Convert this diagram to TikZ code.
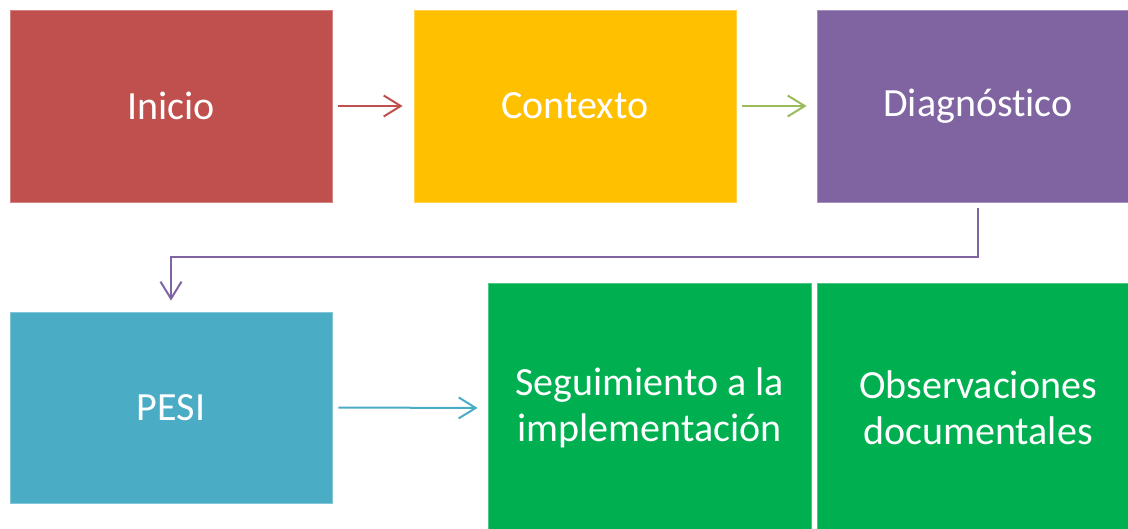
\documentclass[tikz,border=0pt]{standalone}
\usepackage{fontspec}
\setmainfont[Ligatures=NoCommon]{Carlito}
\usetikzlibrary{arrows.meta}
\definecolor{cred}{HTML}{C0504D}
\definecolor{cyel}{HTML}{FFC000}
\definecolor{cpur}{HTML}{8064A2}
\definecolor{cblu}{HTML}{4BACC6}
\definecolor{cgrn}{HTML}{00B050}
\definecolor{clime}{HTML}{9BBB59}
\tikzset{
  box/.style={rectangle, minimum width=322pt, minimum height=192pt, inner sep=0pt,
    text=white, align=center, font=\fontsize{40}{46}\selectfont, line width=0.8pt},
  conn/.style={line width=2pt, -{Straight Barb[length=17pt,width=21pt,line width=2pt]}}
}
\begin{document}
\begin{tikzpicture}[x=1pt,y=-1pt]
\useasboundingbox (0,0) rectangle (1128,529);
\clip (0,0) rectangle (1128,529);
\node[box, fill=cred, draw=cred!70!white] (inicio) at (171,106) {Inicio};
\node[box, fill=cyel, draw=cyel!70!white] (contexto) at (575,106) {Contexto};
\node[box, fill=cpur, draw=cpur!70!white] (diag) at (978,106) {Diagnóstico};
\node[box, fill=cblu, draw=cblu!70!white, minimum height=191pt] (pesi) at (171,407.5) {PESI};
\node[box, fill=cgrn, draw=cgrn!70!white, minimum width=323pt, minimum height=250pt] (seg) at (649.5,408) {Seguimiento a la\\implementación};
\node[box, fill=cgrn, draw=cgrn!70!white, minimum height=250pt] (obs) at (978,408) {Observaciones\\documentales};
\draw[conn, cred, shorten <=6pt, shorten >=11pt] (inicio.east) -- (contexto.west);
\draw[conn, clime, shorten <=6pt, shorten >=10pt] (contexto.east) -- (diag.west);
\draw[conn, cpur, shorten <=6pt, shorten >=11pt] (diag.south) -- ++(0,55) -| (pesi.north);
\draw[conn, cblu, shorten <=6pt, shorten >=10pt] (pesi.east) -- (seg.west);
\end{tikzpicture}
\end{document}
